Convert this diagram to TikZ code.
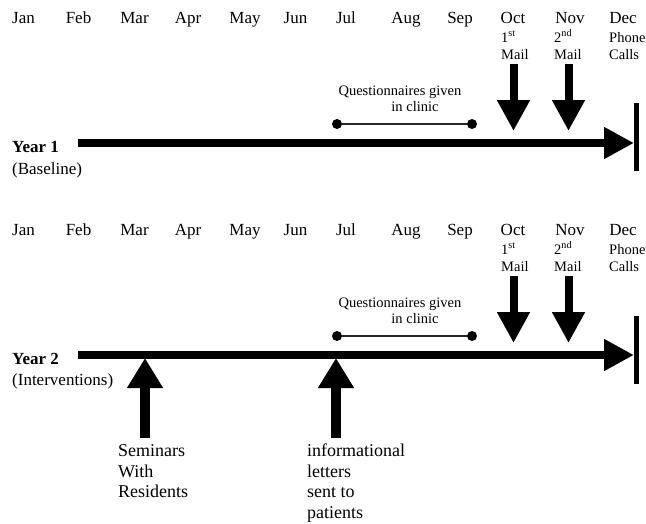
\documentclass[tikz,border=0pt]{standalone}
\usepackage{fontspec}
\setmainfont{Liberation Serif}
\usetikzlibrary{arrows.meta}
\begin{document}
\begin{tikzpicture}[x=1pt,y=-1pt,
  month/.style={anchor=base,inner sep=0pt,font=\fontsize{17}{20}\selectfont},
  sublbl/.style={anchor=base west,inner sep=0pt,font=\fontsize{14.5}{17}\selectfont},
  qlbl/.style={anchor=base,inner sep=0pt,font=\fontsize{14.5}{17}\selectfont},
  yearlbl/.style={anchor=base west,inner sep=0pt,font=\fontsize{17}{20}\selectfont\bfseries},
  yearsub/.style={anchor=base west,inner sep=0pt,font=\fontsize{17}{20}\selectfont},
  intlbl/.style={anchor=base west,inner sep=0pt,font=\fontsize{18}{20}\selectfont},
  timeline/.style={line width=8pt,-{Triangle[length=30pt,width=30pt]}},
  downarrow/.style={line width=8pt,-{Triangle[length=31pt,width=31pt]}},
  uparrow/.style={line width=10pt,-{Triangle[length=30pt,width=34pt]}},
  endbar/.style={line width=5pt},
  qline/.style={line width=1.2pt,draw=black!85},
  qdot/.style={circle,fill=black,inner sep=0pt,minimum size=10pt}
]
\useasboundingbox (0,0) rectangle (646,523);

% ---------- Year 1 ----------
\begin{scope}
\node[month] (jan1) at (23.5,23) {Jan};
\node[month] (feb1) at (78.5,23) {Feb};
\node[month] (mar1) at (134.5,23) {Mar};
\node[month] (apr1) at (188,23) {Apr};
\node[month] (may1) at (245,23) {May};
\node[month] (jun1) at (295.5,23) {Jun};
\node[month] (jul1) at (346,23) {Jul};
\node[month] (aug1) at (406,23) {Aug};
\node[month] (sep1) at (460,23) {Sep};
\node[month] (oct1) at (513,23) {Oct};
\node[month] (nov1) at (570,23) {Nov};
\node[month] (dec1) at (623,23) {Dec};
\node[sublbl] (octa1) at (501,42) {1\textsuperscript{st}};
\node[sublbl] (octb1) at (501,59) {Mail};
\node[sublbl] (nova1) at (554,42) {2\textsuperscript{nd}};
\node[sublbl] (novb1) at (554,59) {Mail};
\node[sublbl] (deca1) at (609,42) {Phone};
\node[sublbl] (decb1) at (609,59) {Calls};

\node[qlbl] (qa1) at (400,95) {Questionnaires given};
\node[qlbl] (qb1) at (415,111) {in clinic};
\node[qdot] (qs1) at (337,124) {};
\node[qdot] (qe1) at (472,124) {};
\draw[qline] (qs1) -- (qe1);

\node[yearlbl] (y1) at (12,152) {Year 1};
\node[yearsub] (y1s) at (12,174) {(Baseline)};

\coordinate (ls1) at (78,143);
\coordinate (le1) at (634,143);
\draw[timeline] (ls1) -- (le1);
\coordinate (bt1) at (636,103);
\coordinate (bb1) at (636,171);
\draw[endbar] (bt1) -- (bb1);

\coordinate (ma1s) at (513.5,64);
\coordinate (ma1e) at (513.5,131);
\draw[downarrow] (ma1s) -- (ma1e);
\coordinate (mb1s) at (568.5,64);
\coordinate (mb1e) at (568.5,131);
\draw[downarrow] (mb1s) -- (mb1e);
\end{scope}

% ---------- Year 2 ----------
\node[month] (jan2) at (23.5,235) {Jan};
\node[month] (feb2) at (78.5,235) {Feb};
\node[month] (mar2) at (134.5,235) {Mar};
\node[month] (apr2) at (188,235) {Apr};
\node[month] (may2) at (245,235) {May};
\node[month] (jun2) at (295.5,235) {Jun};
\node[month] (jul2) at (346,235) {Jul};
\node[month] (aug2) at (406,235) {Aug};
\node[month] (sep2) at (460,235) {Sep};
\node[month] (oct2) at (513,235) {Oct};
\node[month] (nov2) at (570,235) {Nov};
\node[month] (dec2) at (623,235) {Dec};
\node[sublbl] (octa2) at (501,254) {1\textsuperscript{st}};
\node[sublbl] (octb2) at (501,271) {Mail};
\node[sublbl] (nova2) at (554,254) {2\textsuperscript{nd}};
\node[sublbl] (novb2) at (554,271) {Mail};
\node[sublbl] (deca2) at (609,254) {Phone};
\node[sublbl] (decb2) at (609,271) {Calls};

\node[qlbl] (qa2) at (400,307) {Questionnaires given};
\node[qlbl] (qb2) at (415,323) {in clinic};
\node[qdot] (qs2) at (337,336) {};
\node[qdot] (qe2) at (472,336) {};
\draw[qline] (qs2) -- (qe2);

\node[yearlbl] (y2) at (12,364) {Year 2};
\node[yearsub] (y2s) at (12,385) {(Interventions)};

\coordinate (ls2) at (78,355);
\coordinate (le2) at (634,355);
\draw[timeline] (ls2) -- (le2);
\coordinate (bt2) at (636,316);
\coordinate (bb2) at (636,384);
\draw[endbar] (bt2) -- (bb2);

\coordinate (ma2s) at (513.5,276);
\coordinate (ma2e) at (513.5,343);
\draw[downarrow] (ma2s) -- (ma2e);
\coordinate (mb2s) at (568.5,276);
\coordinate (mb2e) at (568.5,343);
\draw[downarrow] (mb2s) -- (mb2e);

% interventions
\node[intlbl] (sem1) at (118,456) {Seminars};
\node[intlbl] (sem2) at (118,477) {With};
\node[intlbl] (sem3) at (118,497) {Residents};
\node[intlbl] (inf1) at (307,456) {informational};
\node[intlbl] (inf2) at (307,477) {letters};
\node[intlbl] (inf3) at (307,497) {sent to};
\node[intlbl] (inf4) at (307,518) {patients};

\coordinate (ua1s) at (145,438);
\coordinate (ua1e) at (145,358);
\draw[uparrow] (ua1s) -- (ua1e);
\coordinate (ua2s) at (336,438);
\coordinate (ua2e) at (336,358);
\draw[uparrow] (ua2s) -- (ua2e);
\end{tikzpicture}
\end{document}
